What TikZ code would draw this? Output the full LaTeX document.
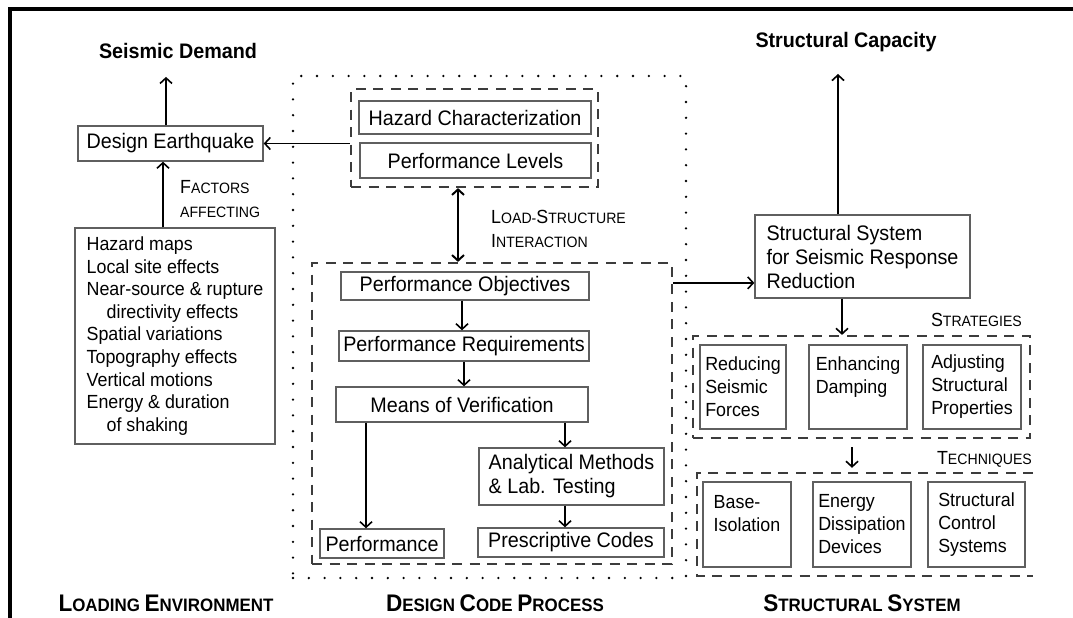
\documentclass[tikz,border=0pt]{standalone}
\usepackage{fontspec}
\setmainfont[FakeStretch=0.94]{Liberation Sans}
\usetikzlibrary{arrows.meta}
\definecolor{boxgray}{HTML}{5F5F5F}
\definecolor{dashgray}{HTML}{3C3C3C}
\newcommand\scA[2]{{\fontsize{19}{24}\selectfont #1}{\fontsize{15}{24}\selectfont #2}}
\newcommand\scB[2]{{\fontsize{24}{28}\selectfont #1}{\fontsize{18}{28}\selectfont #2}}
\tikzset{
 box/.style={draw=boxgray, line width=1.4pt, inner sep=0pt, align=center, font=\fontsize{21}{24}\selectfont},
 sbox/.style={draw=boxgray, line width=1.4pt, inner sep=0pt, align=left, font=\fontsize{19}{23}\selectfont},
 dashbox/.style={draw=dashgray, line width=2.2pt, dash pattern=on 10pt off 7.5pt, inner sep=0pt},
 dotbox/.style={draw=black, line width=2.6pt, line cap=round, dash pattern=on 0pt off 15.8pt, inner sep=0pt},
 arr/.style={draw=black, line width=1.6pt, -{Straight Barb[length=5.5pt,width=12pt]}},
 dbl/.style={draw=black, line width=2pt, {Straight Barb[length=5.5pt,width=12pt]}-{Straight Barb[length=5.5pt,width=12pt]}},
 heading/.style={font=\fontsize{21}{24}\selectfont\bfseries, inner sep=0pt},
 lbl/.style={inner sep=0pt, align=left, font=\fontsize{15}{24}\selectfont},
 sect/.style={inner sep=0pt, font=\bfseries\fontsize{18}{28}\selectfont},
}
\begin{document}
\begin{tikzpicture}[x=1pt,y=-1pt]
\useasboundingbox (0,0) rectangle (1073,618);
\draw[line width=4pt] (9.5,618) -- (9.5,9.5) -- (1073,9.5);

% ---------- Loading environment ----------
\node[heading] (sd) at (178,51) {Seismic Demand};
\node[box, minimum width=185pt, minimum height=35pt] (de) at (170.5,143.5) {Design Earthquake};
\node[draw=boxgray, line width=1.4pt, inner sep=0pt, minimum width=200pt, minimum height=216pt, align=left, font=\fontsize{19}{22.6}\selectfont] (fl) at (175,336)
 {Hazard maps\\Local site effects\\Near-source \& rupture\\\hspace*{20pt}directivity effects\\Spatial variations\\Topography effects\\Vertical motions\\Energy \& duration\\\hspace*{20pt}of shaking};
\node[lbl, anchor=west] (fa) at (180,199) {\scA{F}{ACTORS}\\AFFECTING};
\node[sect] (le) at (166,603) {\scB{L}{OADING} \scB{E}{NVIRONMENT}};

\draw[arr, shorten >=18pt] ([xshift=-4.5pt]de.north) -- ([xshift=-4.5pt]de.north |- sd.south);
\draw[arr] ([xshift=-12pt]fl.north) -- ([xshift=-12pt]fl.north |- de.south);

% ---------- Design code process ----------
\node[dotbox, minimum width=393pt, minimum height=502pt] (dc) at (489.5,327) {};
\node[dashbox, minimum width=247pt, minimum height=98pt] (hz) at (474.5,138) {};
\node[box, minimum width=232pt, minimum height=33pt] (hc) at (475,117.5) {Hazard Characterization};
\node[box, minimum width=231pt, minimum height=35pt] (pl) at (475.5,160.5) {Performance Levels};
\draw[arr] (hz.west |- de.east) -- (de.east);

\node[dashbox, minimum width=360pt, minimum height=301pt] (dp) at (492,413.5) {};
\draw[dbl] ([xshift=-16.5pt]hz.south) -- ([xshift=-16.5pt]hz.south |- dp.north);
\node[lbl, anchor=west] (ls) at (491,229) {\scA{L}{OAD-}\scA{S}{TRUCTURE}\\\scA{I}{NTERACTION}};

\node[box, minimum width=248pt, minimum height=28pt] (po) at (465,286) {Performance Objectives};
\node[box, minimum width=250pt, minimum height=30pt] (pr) at (464,346) {Performance Requirements};
\node[box, minimum width=252pt, minimum height=35pt] (mv) at (462,404.5) {Means of Verification};
\node[box, minimum width=185pt, minimum height=57pt, align=left] (am) at (571.5,476.5) {Analytical Methods\\\& Lab. Testing};
\node[box, minimum width=186pt, minimum height=29pt] (pc) at (571,542.5) {Prescriptive Codes};
\node[box, minimum width=124pt, minimum height=29pt] (pf) at (382,543.5) {Performance};

\draw[arr] ([xshift=-3pt]po.south) -- ([xshift=-3pt]po.south |- pr.north);
\draw[arr] (pr.south) -- (pr.south |- mv.north);
\draw[arr] ([xshift=-6.5pt]am.north |- mv.south) -- ([xshift=-6.5pt]am.north);
\draw[arr] ([xshift=-16pt]pf.north |- mv.south) -- ([xshift=-16pt]pf.north);
\draw[arr] ([xshift=-6.5pt]am.south) -- ([xshift=-6.5pt]am.south |- pc.north);

\node[sect] (dcp) at (495,603) {\scB{D}{ESIGN} \scB{C}{ODE} \scB{P}{ROCESS}};

% ---------- Structural system ----------
\node[heading] (cap) at (846,42) {Structural Capacity};
\node[box, minimum width=215pt, minimum height=83pt, align=left] (ss) at (862.5,256.5) {Structural System\\for Seismic Response\\Reduction};
\draw[arr, shorten >=22pt] ([xshift=-24.5pt]ss.north) -- ([xshift=-24.5pt]ss.north |- cap.south);
\draw[arr] ([yshift=-21pt]dp.north east) -- ([yshift=-21pt]dp.north east -| ss.west);

\node[dashbox, minimum width=337pt, minimum height=102pt] (st) at (861.5,387) {};
\node[lbl, anchor=east] (stl) at (1022,320) {\scA{S}{TRATEGIES}};
\draw[arr] ([xshift=-20.5pt]ss.south) -- ([xshift=-20.5pt]ss.south |- st.north);
\node[sbox, minimum width=86pt, minimum height=84pt] (rs) at (743,387) {Reducing\\Seismic\\Forces};
\node[sbox, minimum width=98pt, minimum height=84pt] (ed) at (858,387) {Enhancing\\Damping\\\mbox{}};
\node[sbox, minimum width=98pt, minimum height=84pt] (as) at (972,387) {Adjusting\\Structural\\Properties};

\node[inner sep=0pt, minimum width=336pt, minimum height=103pt] (tq) at (865,524.5) {};
\draw[dashbox] (tq.north east) -- (tq.north west) -- (tq.south west) -- (tq.south east);
\node[lbl, anchor=east] (tql) at (1032,459) {\scA{T}{ECHNIQUES}};
\draw[arr, shorten <=8pt, shorten >=5pt] ([xshift=-9.5pt]st.south) -- ([xshift=-9.5pt]st.south |- tq.north);
\node[sbox, minimum width=88pt, minimum height=85pt] (bi) at (747,524.5) {Base-\\Isolation\\\mbox{}};
\node[sbox, minimum width=98pt, minimum height=85pt] (en) at (862,524.5) {Energy\\Dissipation\\Devices};
\node[sbox, minimum width=97pt, minimum height=85pt] (sc) at (976.5,524.5) {Structural\\Control\\Systems};

\node[sect] (ssl) at (862,603) {\scB{S}{TRUCTURAL} \scB{S}{YSTEM}};
\end{tikzpicture}
\end{document}
